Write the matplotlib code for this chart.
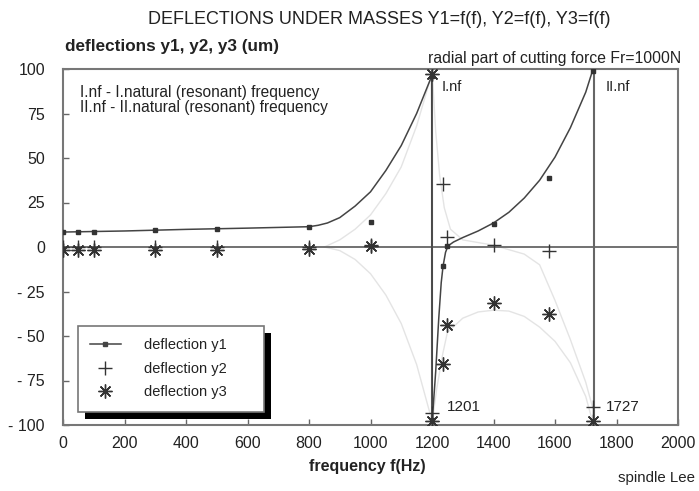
import numpy as np
import matplotlib
matplotlib.use("Agg")
from matplotlib import pyplot as plt
from matplotlib.lines import Line2D
from matplotlib.patches import Rectangle
from matplotlib.transforms import IdentityTransform

plt.rcParams['font.family'] = ['Liberation Sans', 'DejaVu Sans']

# measured points (markers)
freq = [0, 50, 100, 300, 500, 800, 1000, 1199, 1201, 1235, 1250, 1400, 1580, 1722]
y1 = [8.4, 8.4, 8.6, 9.5, 10.3, 11.4, 14.0, 96, -97, -10.7, 0.6, 13.0, 38.8, 99]
y2 = [0.0, 0.0, 0.0, 0.0, 0.0, 0.0, 1.0, np.nan, -93, 35.4, 5.6, 1.0, -2.2, -90]
y3 = [-1.5, -1.5, -1.5, -1.5, -1.5, -1.0, 0.5, 97, -98, -66, -44, -31.5, -37.7, -98]

# solid curve of y1
c1_f = [0, 200, 400, 600, 800, 830, 860, 900, 950, 1000, 1050, 1100, 1150, 1199,
        1201, 1212, 1222, 1230, 1236, 1244, 1252, 1270, 1300, 1350, 1400,
        1450, 1500, 1550, 1600, 1650, 1700, 1722]
c1_v = [8.4, 9.0, 9.9, 10.6, 11.4, 12.2, 13.5, 16.5, 23, 31, 43, 57, 75, 96,
        -97, -70, -40, -20, -10.7, -3, 0.6, 2.8, 5.3, 9, 13.5,
        19.5, 27.5, 37.5, 50.5, 67, 87, 99]

# faint curves
c2a_f = [850, 900, 950, 1000, 1050, 1100, 1150, 1199]
c2a_v = [0, -2, -7, -15, -27, -43, -66, -97]
c2b_f = [1201, 1212, 1225, 1240, 1260, 1300, 1400, 1500, 1550, 1600, 1650, 1700, 1722]
c2b_v = [97, 65, 40, 22, 10, 4, 1, -4, -10, -30, -52, -76, -90]
c3a_f = [850, 900, 950, 1000, 1050, 1100, 1150, 1199]
c3a_v = [0, 4, 10, 18, 30, 45, 68, 97]
c3b_f = [1201, 1215, 1235, 1250, 1300, 1350, 1400, 1450, 1500, 1550, 1600, 1650, 1700, 1722]
c3b_v = [-98, -80, -60, -48, -40, -36.5, -35.5, -36, -39, -45, -53, -65, -84, -98]

resonances = [1201, 1727]
xticks = list(range(0, 2001, 200))
yticks = [100, 75, 50, 25, 0, -25, -50, -75, -100]
ylabels = ["100", "75", "50", "25", "0", "- 25", "- 50", "- 75", "- 100"]

W, H = 699, 491
fig = plt.figure(figsize=(W / 100, H / 100), dpi=100)
ax = fig.add_axes([63 / W, 1 - 425 / H, 615 / W, 356 / H])

tc = '#222222'
mc = '#333333'
faint = '#e4e4e4'

# faint curves
for f, v in [(c2a_f, c2a_v), (c2b_f, c2b_v), (c3a_f, c3a_v), (c3b_f, c3b_v)]:
    ax.plot(f, v, color=faint, lw=1, zorder=1)

# reference lines
ax.axhline(0, color='#666666', lw=1.3, zorder=2)
for r in resonances:
    ax.axvline(r, color='#666666', lw=1.5, zorder=2)

ax.plot(c1_f, c1_v, color='#444444', lw=1.1, zorder=3)

ax.plot(freq, y1, ls='none', marker='s', ms=3.5, color=mc, zorder=4)
ax.plot(freq, y2, ls='none', marker='+', ms=10, mew=1, color=mc, zorder=4)
ax.plot(freq, y3, ls='none', marker=(8, 2, 0), ms=10, mew=1, color=mc, zorder=4)

ax.set_xlim(0, 2000)
ax.set_ylim(-100, 100)
ax.set_xticks(xticks)
ax.set_yticks(yticks)
ax.set_yticklabels(ylabels)
ax.tick_params(direction='in', length=4, width=1, color='#666666',
               labelsize=11.5, labelcolor=tc)
ax.tick_params(axis='y', pad=13)
ax.tick_params(axis='x', pad=8)
for s in ax.spines.values():
    s.set_color('#777777')
    s.set_linewidth(1.5)

# texts inside the plot
ax.text(1232, 90, "I.nf", fontsize=10.5, color=tc, va='center')
ax.text(1765, 90, "II.nf", fontsize=10.5, color=tc, va='center')
ax.text(1250, -90, "1201", fontsize=11, color=tc, va='center')
ax.text(1767, -90, "1727", fontsize=11, color=tc, va='center')

# legend
handles = [
    Line2D([], [], color='#444444', lw=1.1, marker='s', ms=3.5),
    Line2D([], [], ls='none', marker='+', ms=10, mew=1, color=mc),
    Line2D([], [], ls='none', marker=(8, 2, 0), ms=10, mew=1, color=mc),
]
labels = ["deflection y1      ", "deflection y2      ", "deflection y3      "]
leg = ax.legend(handles, labels, loc='upper left', bbox_to_anchor=(0.024, 0.278),
                borderaxespad=0, fancybox=False, framealpha=1, edgecolor='#777777',
                fontsize=10.5, handlelength=2.1, handletextpad=1.6, labelspacing=0.65,
                borderpad=0.85)
leg.get_frame().set_linewidth(1.2)
for t in leg.get_texts():
    t.set_color(tc)

fig.canvas.draw()
bb = leg.get_window_extent()
shadow = Rectangle((bb.x0 + 7, bb.y0 - 7), bb.width, bb.height, transform=IdentityTransform(),
                   facecolor='black', edgecolor='none', zorder=4.9)
ax.add_artist(shadow)
shadow.set_clip_on(False)

# figure texts
fig.text(379 / W, 1 - 20 / H, "DEFLECTIONS UNDER MASSES Y1=f(f), Y2=f(f), Y3=f(f)",
         fontsize=13, color=tc, ha='center', va='center')
fig.text(65 / W, 1 - 47 / H, "deflections y1, y2, y3 (um)", fontsize=12.3,
         fontweight='bold', color=tc, ha='left', va='center')
fig.text(681 / W, 1 - 58 / H, "radial part of cutting force Fr=1000N", fontsize=11.3,
         color=tc, ha='right', va='center')
fig.text(80 / W, 1 - 92 / H, "I.nf - I.natural (resonant) frequency", fontsize=11.2,
         color=tc, ha='left', va='center')
fig.text(80 / W, 1 - 108 / H, "II.nf - II.natural (resonant) frequency", fontsize=11.2,
         color=tc, ha='left', va='center')
fig.text(367 / W, 1 - 466 / H, "frequency f(Hz)", fontsize=11.5, fontweight='bold',
         color=tc, ha='center', va='center')
fig.text(656 / W, 1 - 478 / H, "spindle Lee", fontsize=10.8, color=tc,
         ha='center', va='center')

fig.savefig("out.png", dpi=100)
